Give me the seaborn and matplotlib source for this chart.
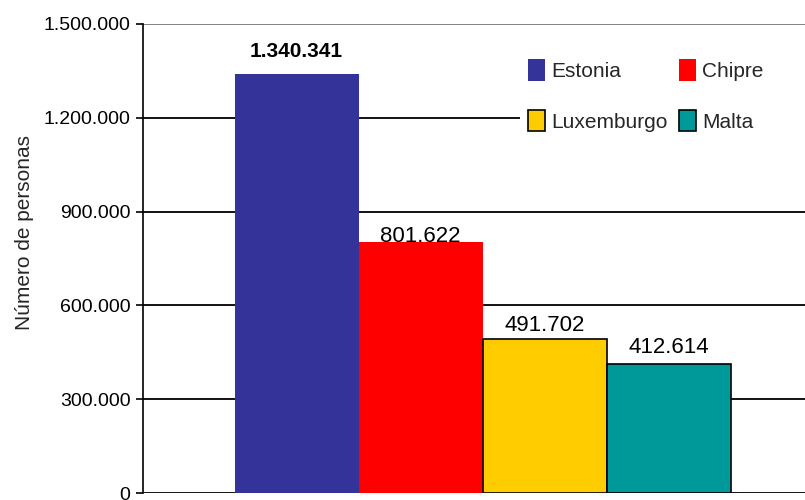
import matplotlib
matplotlib.use("Agg")
import matplotlib.pyplot as plt
from matplotlib.patches import Patch, Rectangle
import seaborn as sns
import pandas as pd

countries = ["Estonia", "Chipre", "Luxemburgo", "Malta"]
values = [1340341, 801622, 491702, 412614]
colors = ["#333399", "#FF0000", "#FFCC00", "#009999"]
edges = ["none", "none", "black", "black"]
yticks = [0, 300000, 600000, 900000, 1200000, 1500000]
ylabel = "Número de personas"

def fmt(v):
    return f"{v:,.0f}".replace(",", ".")

sns.set_theme(style="white")
plt.rcParams["font.family"] = ["Liberation Sans", "DejaVu Sans"]

df = pd.DataFrame({"pais": countries, "valor": values})

fig = plt.figure(figsize=(8.05, 5.0), dpi=100)
ax = fig.add_axes([143 / 805, 7 / 500, 662 / 805, 469 / 500])

sns.barplot(data=df, x="pais", y="valor", hue="pais", palette=colors,
            order=countries, hue_order=countries, dodge=False, width=1.0,
            saturation=1.0, legend=False, ax=ax, zorder=3)

for patch, ec in zip(ax.patches, edges):
    if ec == "none":
        patch.set_edgecolor(patch.get_facecolor())
        patch.set_linewidth(0)
    else:
        patch.set_edgecolor(ec)
        patch.set_linewidth(1.2)

ax.set_ylim(0, 1500000)
ax.set_xlim(-1.238, 4.10)
ax.set_yticks(yticks)
ax.set_yticklabels([fmt(v) for v in yticks], fontsize=14)
ax.set_xticks([])
ax.set_xlabel("")
ax.set_ylabel(ylabel, fontsize=15)
ax.yaxis.set_label_coords(-0.165, 0.555)

for y in yticks:
    ax.axhline(y, color=("#777777" if y == yticks[-1] else "black"), lw=1.3, zorder=1)

for s in ["top", "right", "bottom"]:
    ax.spines[s].set_visible(False)
ax.spines["left"].set_color("black")
ax.spines["left"].set_linewidth(1.2)
ax.spines["left"].set_zorder(4)
ax.tick_params(axis="y", which="major", left=True, length=5, width=1.2,
               color="black", pad=4, labelcolor="black")

pads = [12.5, 0, 5.8, 8]
weights = ["bold", "normal", "normal", "normal"]
sizes = [15, 16, 16, 16]
for i, (v, p, w, s) in enumerate(zip(values, pads, weights, sizes)):
    ax.annotate(fmt(v), xy=(i, v), xytext=(0, p), textcoords="offset points",
                ha="center", va="baseline", fontsize=s, fontweight=w,
                color="black", zorder=5)

# white area behind the legend (hides the gridline there)
ax.add_patch(Rectangle((520 / 805, 1 - 145 / 500), 285 / 805, 100 / 500,
                       transform=fig.transFigure, facecolor="white",
                       edgecolor="none", zorder=2))

order = [0, 2, 1, 3]  # row-wise filling for 2 columns
handles = [Patch(facecolor=colors[i], edgecolor=(edges[i] if edges[i] != "none" else colors[i]),
                 linewidth=(1.2 if edges[i] != "none" else 0)) for i in order]
labels = [countries[i] for i in order]
leg = ax.legend(handles, labels, ncol=2, loc="upper left",
                bbox_to_anchor=(522 / 805, 1 - 53 / 500), bbox_transform=fig.transFigure,
                frameon=False, fontsize=15, handlelength=0.8, handleheight=1.2,
                handletextpad=0.3, columnspacing=0.55, labelspacing=1.4,
                borderpad=0.3, borderaxespad=0)
leg.set_zorder(6)

fig.savefig("out.png", dpi=100)
